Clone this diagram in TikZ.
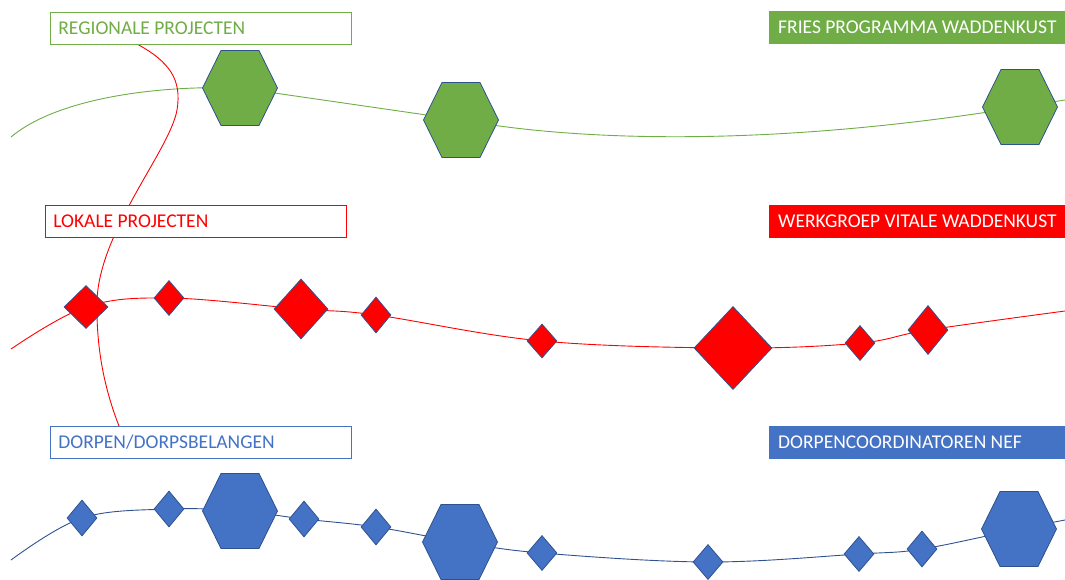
\documentclass[tikz,border=0pt]{standalone}
\usepackage{fontspec}
\setmainfont{Carlito}
\usetikzlibrary{shapes.geometric,backgrounds}
\definecolor{grn}{HTML}{70AD47}
\definecolor{blu}{HTML}{4472C4}
\definecolor{rood}{HTML}{FF0000}
\definecolor{rand}{HTML}{2F528F}

\begin{document}
\begin{tikzpicture}[x=1pt,y=1pt,
	kader/.style={draw=#1,text=#1,fill=white,line width=0.8pt,anchor=north west,text width=285pt,inner xsep=8pt,minimum height=32pt,align=flush left,font=\fontsize{19.5}{23}\selectfont},
	balk/.style={fill=#1,text=white,anchor=north west,text width=290pt,inner xsep=9pt,minimum height=33pt,align=flush left,font=\fontsize{19.5}{23}\selectfont},
	ruit/.style 2 args={diamond,draw=rand,line width=0.8pt,inner sep=0pt,minimum width=#1,minimum height=#2},
	zeshoek/.pic={\path[pic actions] (-37.5,0) -- (-19,37.5) -- (19,37.5) -- (37.5,0) -- (19,-37.5) -- (-19,-37.5) -- cycle; \coordinate (-m) at (0,0);},
	lijn/.style={line width=0.9pt,draw=#1}]
	\useasboundingbox (0,0) rectangle (1065,-579);
	% labels
	\node[kader=grn] (regio) at (50,-12) {REGIONALE PROJECTEN};
	\node[kader=rood] (lokaal) at (45,-205) {LOKALE PROJECTEN};
	\node[kader=blu] (dorp) at (50,-426) {DORPEN/DORPSBELANGEN};
	\node[balk=grn] (fries) at (769,-11) {FRIES PROGRAMMA WADDENKUST};
	\node[balk=rood] (werk) at (769,-205) {WERKGROEP VITALE WADDENKUST};
	\node[balk=blu] (nef) at (769,-426) {DORPENCOORDINATOREN NEF};
	% groene lijn
	\pic[fill=grn,draw=rand,line width=0.8pt] (gz1) at (240,-88) {zeshoek};
	\pic[fill=grn,draw=rand,line width=0.8pt] (gz2) at (461,-120) {zeshoek};
	\pic[fill=grn,draw=rand,line width=0.8pt] (gz3) at (1020,-107) {zeshoek};
	% rode lijn
	\node[ruit={44pt}{43pt},fill=rood] (r1) at (86,-307) {};
	\node[ruit={30pt}{35pt},fill=rood] (r2) at (169,-298) {};
	\node[ruit={54pt}{60pt},fill=rood] (r3) at (301,-309) {};
	\node[ruit={30pt}{36pt},fill=rood] (r4) at (376,-315) {};
	\node[ruit={30pt}{34pt},fill=rood] (r5) at (542,-341) {};
	\node[ruit={78pt}{83pt},fill=rood] (r6) at (733,-348) {};
	\node[ruit={30pt}{35pt},fill=rood] (r7) at (860,-343) {};
	\node[ruit={40pt}{49pt},fill=rood] (r8) at (928,-330) {};
	% blauwe lijn
	\node[ruit={30pt}{36pt},fill=blu] (b1) at (82,-518) {};
	\node[ruit={30pt}{36pt},fill=blu] (b2) at (169,-509) {};
	\pic[fill=blu,draw=rand,line width=0.8pt] (bz1) at (240,-511) {zeshoek};
	\node[ruit={30pt}{36pt},fill=blu] (b3) at (304,-519) {};
	\node[ruit={30pt}{36pt},fill=blu] (b4) at (376,-527) {};
	\pic[fill=blu,draw=rand,line width=0.8pt] (bz2) at (460,-542) {zeshoek};
	\node[ruit={30pt}{35pt},fill=blu] (b5) at (542,-553) {};
	\node[ruit={30pt}{35pt},fill=blu] (b6) at (708,-562) {};
	\node[ruit={30pt}{35pt},fill=blu] (b7) at (859,-554) {};
	\node[ruit={30pt}{36pt},fill=blu] (b8) at (922,-549) {};
	\pic[fill=blu,draw=rand,line width=0.8pt] (bz3) at (1019,-529) {zeshoek};
	\coordinate (gs) at (11,-137);
	\coordinate (ge) at (1065,-100);
	\coordinate (rs) at (11,-349);
	\coordinate (re) at (1065,-311);
	\coordinate (bs) at (11,-560);
	\coordinate (be) at (1065,-520);
	\coordinate (rtop) at (137,-44);
	\coordinate (rbot) at (119,-426);
	\begin{pgfonlayer}{background}
		\draw[lijn=grn] (gs) .. controls (55,-100) and (150,-85) .. (gz1-m) -- (gz2-m) .. controls (600,-145) and (800,-143) .. (gz3-m) -- (ge);
		\draw[lijn=rood] plot[smooth,tension=0.6] coordinates {(rs) (r1.center) (r2.center) (r3.center) (r4.center) (r5.center) (r6.center) (r7.center) (r8.center) (re)};
		\draw[lijn=rand] plot[smooth,tension=0.6] coordinates {(bs) (b1.center) (b2.center) (bz1-m) (b3.center) (b4.center) (bz2-m) (b5.center) (b6.center) (b7.center) (b8.center) (bz3-m) (be)};
		\draw[lijn=rood] (rtop) .. controls (170,-62) and (182,-80) .. (177,-110) .. controls (170,-150) and (100,-230) .. (97,-300) .. controls (96,-350) and (105,-390) .. (rbot);
	\end{pgfonlayer}
\end{tikzpicture}
\end{document}
